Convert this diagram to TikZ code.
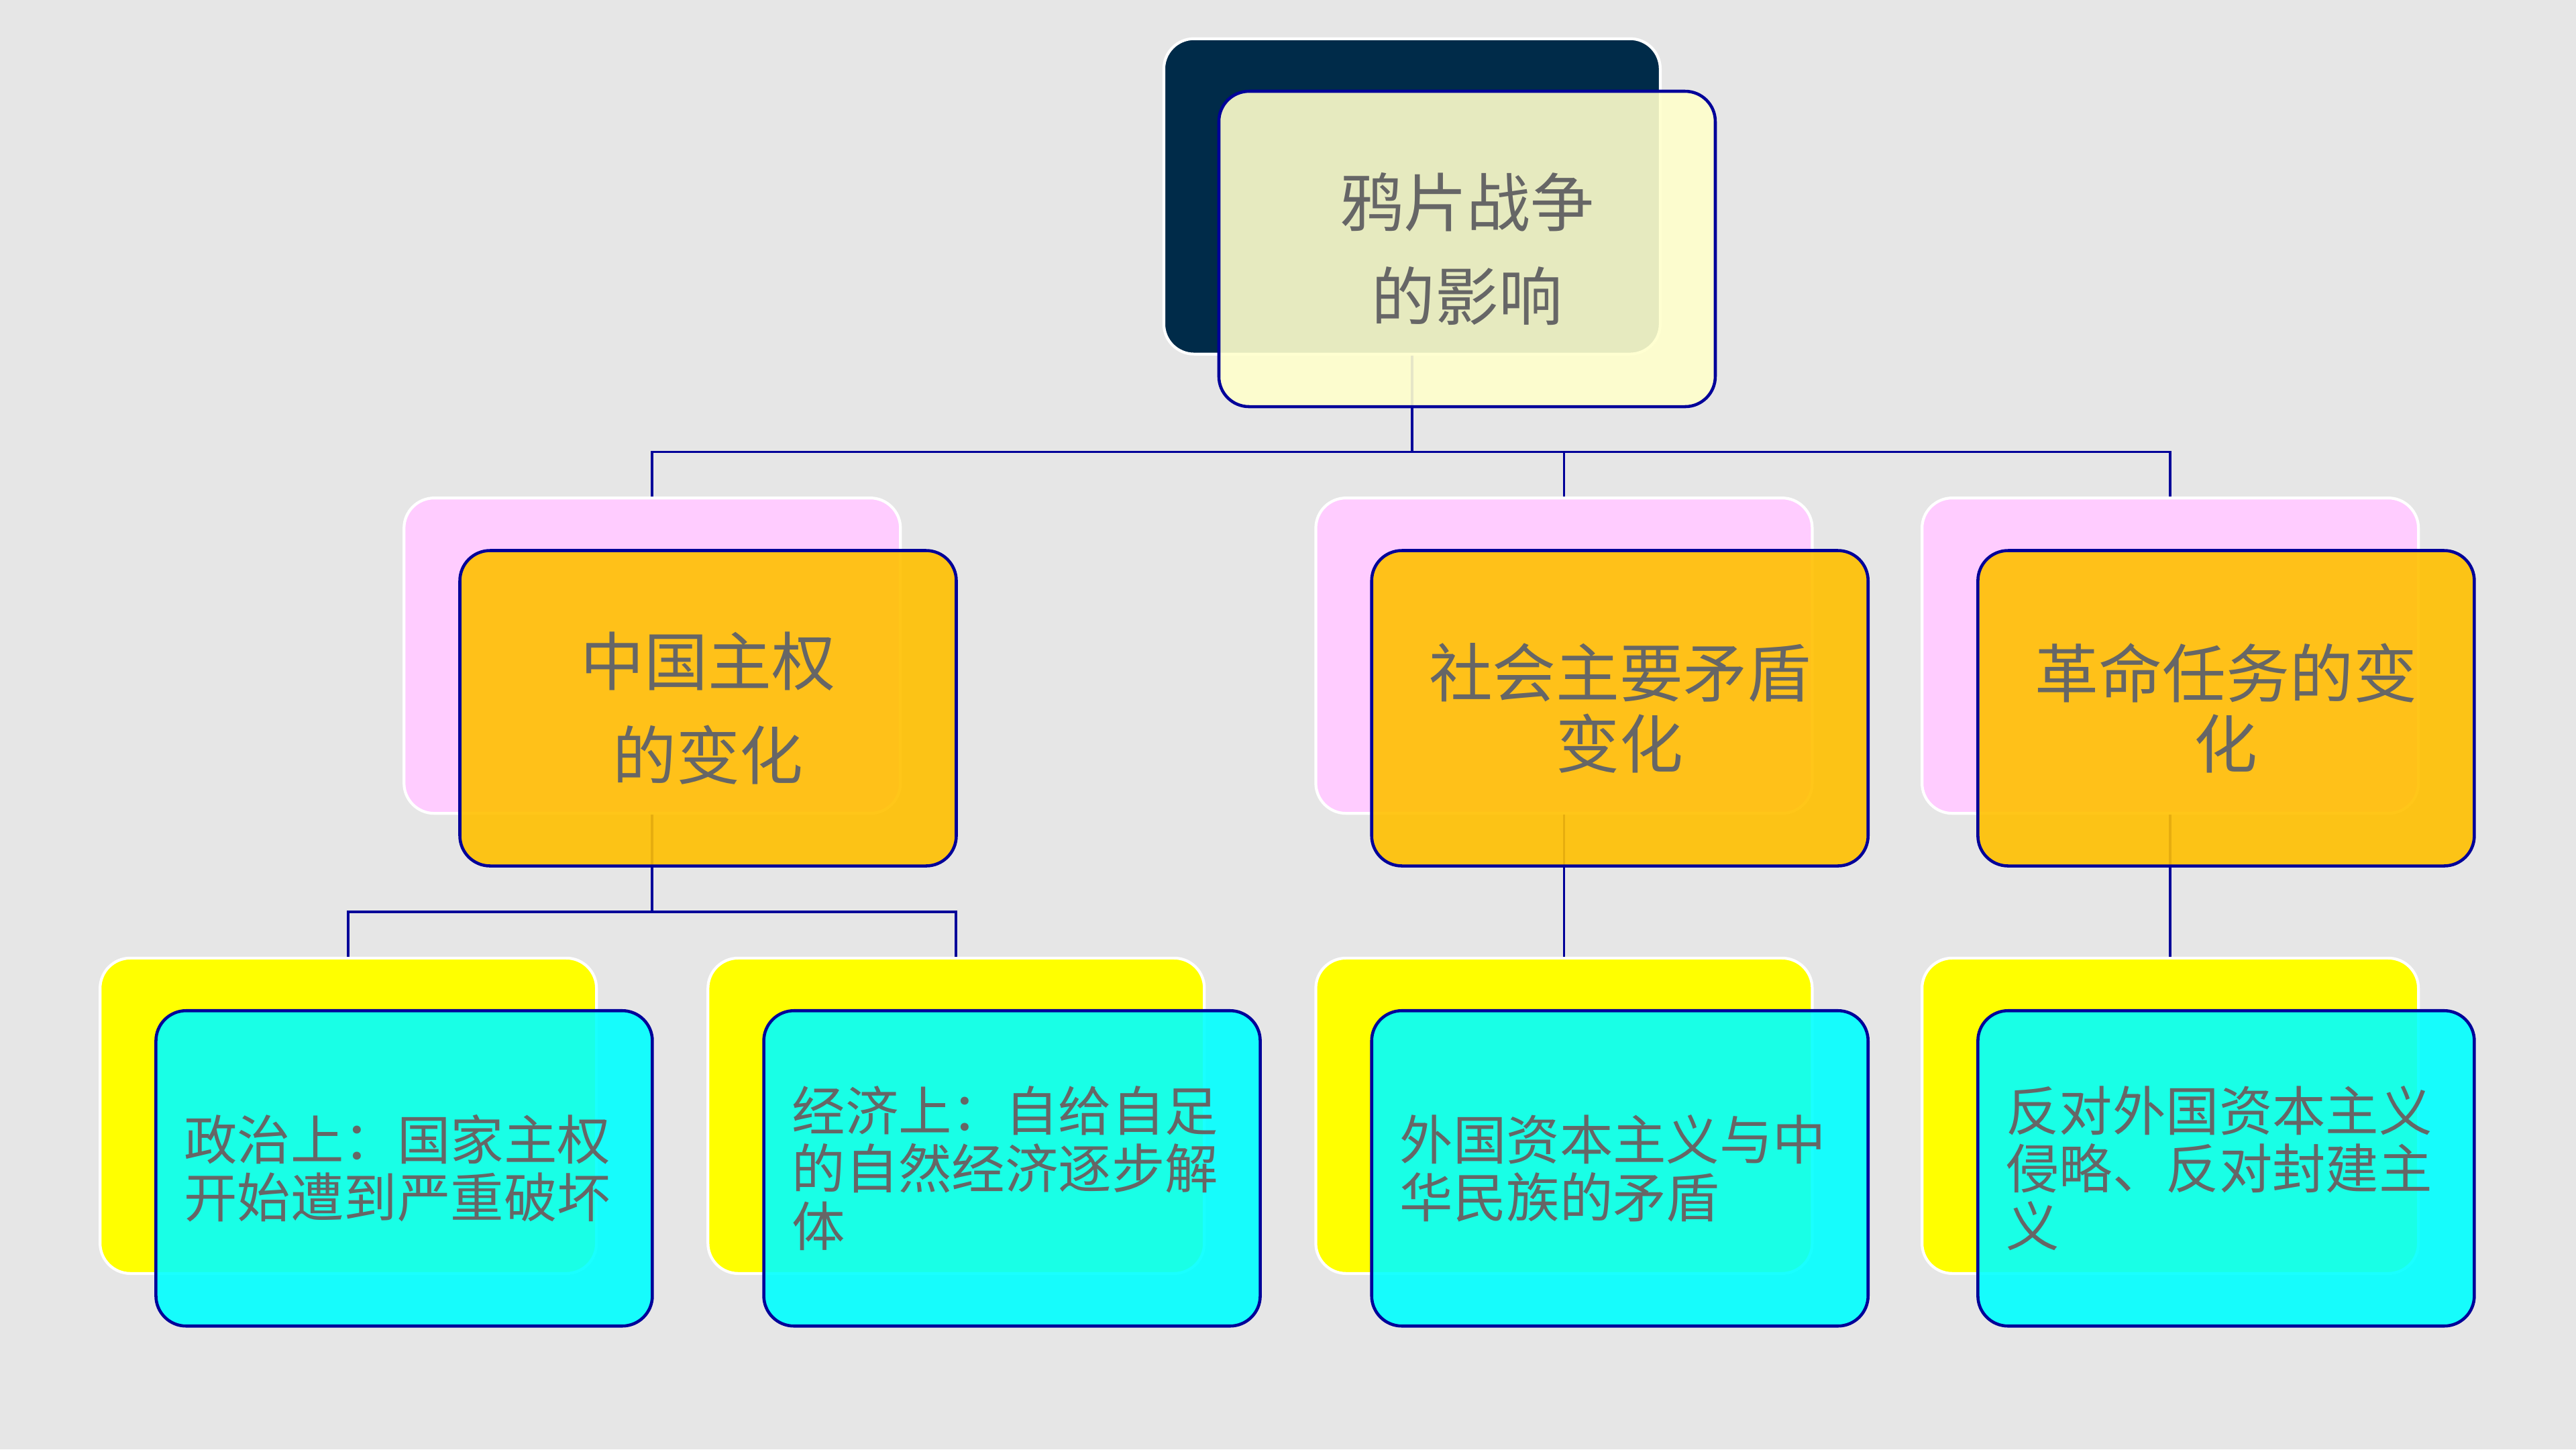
\documentclass[tikz,border=0pt]{standalone}
\usepackage{fontspec}
\newfontfamily\cjk{Noto Sans CJK SC}

\definecolor{bggray}{HTML}{E6E6E6}
\definecolor{topnavy}{HTML}{002B49}
\definecolor{paleyellow}{HTML}{FFFFCC}
\definecolor{pinkback}{HTML}{FFCCFF}
\definecolor{amber}{HTML}{FFC000}
\definecolor{lemon}{HTML}{FFFF00}
\definecolor{aqua}{HTML}{00FFFF}
\definecolor{framenavy}{HTML}{000099}
\definecolor{textgray}{HTML}{666666}

\begin{document}
\begin{tikzpicture}[x=0.02449cm, y=-0.02449cm,
  box/.style={rectangle, rounded corners=0.45cm, minimum width=7.40cm, minimum height=4.70cm,
    inner xsep=0.42cm, text width=6.56cm},
  back/.style={box, draw=white, line width=1.2pt},
  front/.style={box, draw=framenavy, line width=1.3pt, fill opacity=0.9, text opacity=1,
    text=textgray},
  bigtext/.style={align=center, font=\cjk\fontsize{27pt}{40pt}\selectfont},
  smalltext/.style={align=left, font=\cjk\fontsize{22.6pt}{24.4pt}\selectfont},
  link/.style={draw=framenavy, line width=1.1pt}]
  \fill[bggray] (0,0) rectangle (1568,882);
  \useasboundingbox (0,0) rectangle (1568,882);

  % shadow boxes
  \node[back, fill=topnavy] (tb) at (859.5,119.5) {};
  \node[back, fill=pinkback] (b1) at (397,399) {};
  \node[back, fill=pinkback] (b2) at (952,399) {};
  \node[back, fill=pinkback] (b3) at (1321,399) {};
  \foreach \n/\x in {c1/212,c2/582,c3/952,c4/1321}{ \node[back, fill=lemon] (\n) at (\x,679) {}; }

  % connectors
  \coordinate (j0) at (859.5,275);
  \coordinate (j1) at (397,555);
  \draw[link] (tb.south) -- (j0);
  \draw[link] (b1.north) |- (j0) -| (b3.north);
  \draw[link] (j0 -| b2.north) -- (b2.north);
  \draw[link] (b1.south) -- (j1);
  \draw[link] (c1.north) |- (j1) -| (c2.north);
  \draw[link] (b2.south) -- (c3.north);
  \draw[link] (b3.south) -- (c4.north);

  % front boxes
  \node[front, fill=paleyellow, bigtext] (tf) at (893,151.5) {鸦片战争\\的影响};
  \node[front, fill=amber, bigtext] (f1) at (431,431) {中国主权\\的变化};
  \node[front, fill=amber, bigtext, font=\cjk\fontsize{27pt}{30pt}\selectfont] (f2) at (986,431) {社会主要矛盾\\变化};
  \node[front, fill=amber, bigtext, font=\cjk\fontsize{27pt}{30pt}\selectfont] (f3) at (1355,431) {革命任务的变\\化};
  \node[front, fill=aqua, smalltext] (g1) at (246,711) {政治上：国家主权\\开始遭到严重破坏};
  \node[front, fill=aqua, smalltext] (g2) at (616,711) {经济上：自给自足\\的自然经济逐步解\\体};
  \node[front, fill=aqua, smalltext] (g3) at (986,711) {外国资本主义与中\\华民族的矛盾};
  \node[front, fill=aqua, smalltext] (g4) at (1355,711) {反对外国资本主义\\侵略、反对封建主\\义};
\end{tikzpicture}
\end{document}
